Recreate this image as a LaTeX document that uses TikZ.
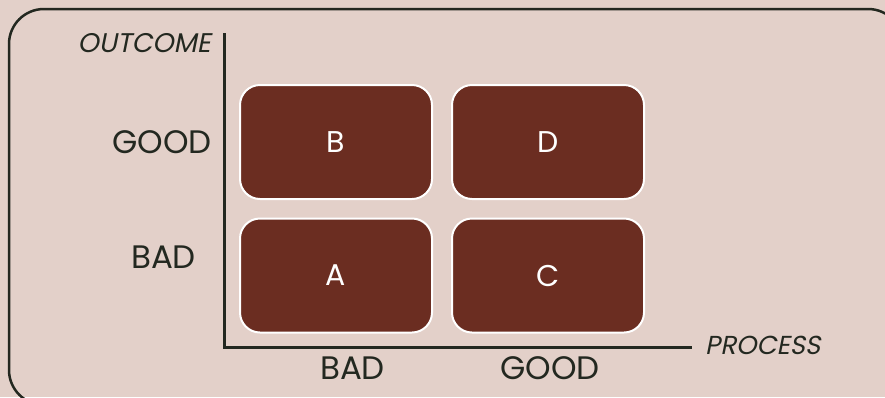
\documentclass[tikz,border=0pt]{standalone}
\usepackage{fontspec}
\setmainfont{Poppins}
\newfontfamily\slfont[FakeSlant=0.2]{Poppins}
\definecolor{bgc}{HTML}{E3D0C9}
\definecolor{boxc}{HTML}{6B2D21}
\definecolor{inkc}{HTML}{232820}
\begin{document}
\begin{tikzpicture}[x=1pt,y=-1pt,
  cell/.style={draw=white,line width=2pt,fill=boxc,rounded corners=20pt,minimum width=192pt,minimum height=114pt,inner sep=0pt,text=white,font=\fontsize{30}{30}\selectfont},
  lab/.style={text=inkc,inner sep=0pt,font=\fontsize{32.5}{32.5}\selectfont},
  axlab/.style={text=inkc,inner sep=0pt,font=\slfont\fontsize{27}{27}\selectfont},
  axis/.style={draw=inkc,line width=3pt}]
\useasboundingbox (0,0) rectangle (885,397);
\fill[bgc] (0,0) rectangle (885,397);
\draw[inkc,line width=2.5pt,rounded corners=35pt] (9,9) rectangle (903,405);
\coordinate (top) at (224,33);
\coordinate (orig) at (224,347);
\coordinate (right) at (692,347);
\draw[axis] (top) -- (orig) -- (right);
\node[cell] (B) at (336,142) {B};
\node[cell] (D) at (548,142) {D};
\node[cell] (A) at (336,275.5) {A};
\node[cell] (C) at (548,275.5) {C};
\node[lab,anchor=east] (good) at (212,142) {GOOD};
\node[lab] (bad) at (163.5,257) {BAD};
\node[lab] (bbad) at (352.5,368) {BAD};
\node[lab] (bgood) at (550,368) {GOOD};
\node[axlab,anchor=east] (outcome) at (211,43) {OUTCOME};
\node[axlab,anchor=west,font=\slfont\fontsize{26}{26}\selectfont] (process) at (705,345) {PROCESS};
\end{tikzpicture}
\end{document}
